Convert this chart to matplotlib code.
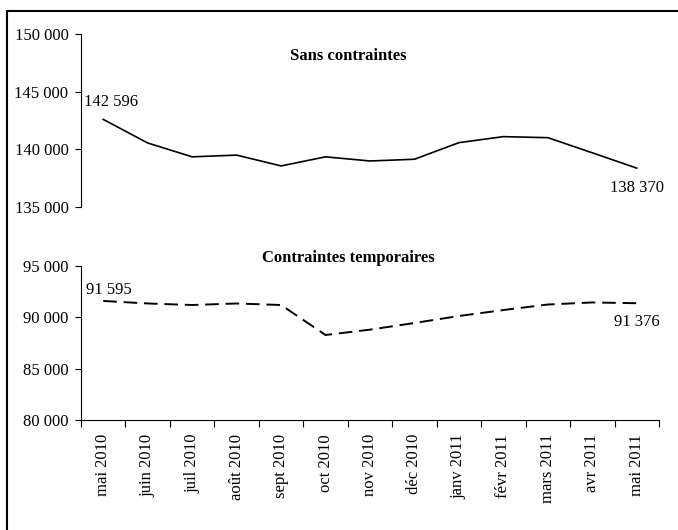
import matplotlib
matplotlib.use('Agg')
import matplotlib.pyplot as plt
from matplotlib.patches import Rectangle

plt.rcParams['font.family'] = ['Liberation Serif', 'DejaVu Serif']

# Data
mois = ['mai 2010', 'juin 2010', 'juil 2010', 'août 2010', 'sept 2010', 'oct 2010',
        'nov 2010', 'déc 2010', 'janv 2011', 'févr 2011', 'mars 2011', 'avr 2011', 'mai 2011']
sans_contraintes = [142596, 140550, 139350, 139500, 138560, 139350, 138990,
                    139140, 140580, 141100, 141010, 139700, 138370]
contraintes_temp = [91595, 91350, 91200, 91350, 91200, 88280, 88800,
                    89450, 90130, 90710, 91250, 91450, 91376]
y_top_ticks = [135000, 140000, 145000, 150000]
y_bot_ticks = [80000, 85000, 90000, 95000]


def fmt(v):
    return f'{v:,}'.replace(',', ' ')


W, H = 678, 530
fig = plt.figure(figsize=(W / 100, H / 100), dpi=100)

# frame around the chart (only left and top edges visible)
fig.patches.append(Rectangle((7 / W, -0.1), 2, 1 - 11 / H + 0.1, transform=fig.transFigure,
                             fill=False, edgecolor='black', linewidth=1.5))

ax1 = fig.add_axes([81 / W, 1 - 207 / H, (659 - 81) / W, (207 - 34) / H])
ax2 = fig.add_axes([81 / W, 1 - 420 / H, (659 - 81) / W, (420 - 266) / H])

x = list(range(len(mois)))

ax1.plot(x, sans_contraintes, color='black', linewidth=1.2)
ax2.plot(x, contraintes_temp, color='black', linewidth=1.4, dashes=(7, 3.5))

for ax, ticks in ((ax1, y_top_ticks), (ax2, y_bot_ticks)):
    ax.set_xlim(-0.5, len(mois) - 0.5)
    ax.set_ylim(ticks[0], ticks[-1])
    ax.set_yticks(ticks)
    ax.set_yticklabels([fmt(t) for t in ticks], fontsize=12)
    ax.tick_params(axis='y', direction='out', length=4, width=0.8, pad=5)
    for s in ('top', 'right'):
        ax.spines[s].set_visible(False)
    ax.spines['left'].set_linewidth(0.8)
    ax.patch.set_alpha(0)

ax1.spines['bottom'].set_visible(False)
ax1.set_xticks([])

ax2.spines['bottom'].set_linewidth(0.8)
ax2.set_xticks(x)
ax2.set_xticklabels(mois, rotation=90, fontsize=12)
ax2.set_xticks([i - 0.5 for i in range(len(mois) + 1)], minor=True)
ax2.tick_params(axis='x', which='major', length=0, pad=10)
ax2.tick_params(axis='x', which='minor', direction='out', length=5, width=0.8)

# data labels
ax1.annotate(fmt(sans_contraintes[0]), (x[0], sans_contraintes[0]), xytext=(8, 17),
             textcoords='offset pixels', ha='center', va='center', fontsize=12)
ax1.annotate(fmt(sans_contraintes[-1]), (x[-1], sans_contraintes[-1]), xytext=(0, -20),
             textcoords='offset pixels', ha='center', va='center', fontsize=12)
ax2.annotate(fmt(contraintes_temp[0]), (x[0], contraintes_temp[0]), xytext=(6, 11),
             textcoords='offset pixels', ha='center', va='center', fontsize=12)
ax2.annotate(fmt(contraintes_temp[-1]), (x[-1], contraintes_temp[-1]), xytext=(0, -19),
             textcoords='offset pixels', ha='center', va='center', fontsize=12)

# panel titles
fig.text(348 / W, 1 - 56 / H, 'Sans contraintes', ha='center', va='center',
         fontsize=12, fontweight='bold')
fig.text(348 / W, 1 - 258 / H, 'Contraintes temporaires', ha='center', va='center',
         fontsize=12, fontweight='bold')

fig.savefig('out.png', dpi=100)
